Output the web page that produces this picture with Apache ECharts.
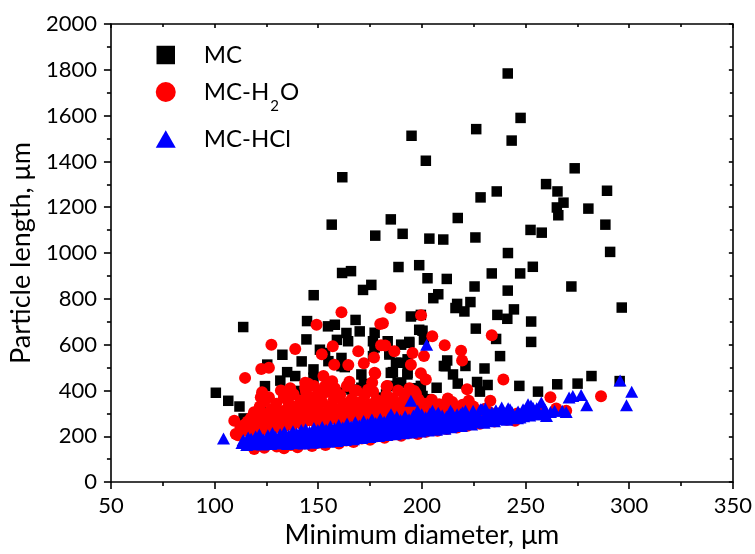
<!DOCTYPE html>
<html>
<head>
<meta charset="utf-8">
<script src="https://cdn.jsdelivr.net/npm/echarts@6/dist/echarts.min.js"></script>
<style>
  html, body { margin: 0; padding: 0; background: #fff; }
  #chart { width: 755px; height: 554px; }
</style>
</head>
<body>
<div id="chart"></div>
<script>
// Axis ranges
const xTicks = [50, 100, 150, 200, 250, 300, 350];
const yTicks = [0, 200, 400, 600, 800, 1000, 1200, 1400, 1600, 1800, 2000];

// Series names
const seriesNames = ['MC', 'MC-H2O', 'MC-HCl'];

// MC: [minimum diameter (µm), particle length (µm)]
const mcPoints = [
  [100.6,390],[106.6,355],[112,330],[114,278],[113.8,677],[124.3,419],[125.4,513],[122.2,308],
  [132.7,556],[131.7,443],[135,480],[138.9,463],[142,527],[144.6,703],[144.3,623],[147.8,816],
  [147.7,492],[147.7,456],[150.8,578],[154.7,680],[158,687],[159,621],[161.5,913],[165.8,921],
  [163.6,651],[164.4,615],[168,708],[170,658],[171.6,839],[175.6,861],[161.6,1331],[156.5,1124],
  [177.5,1076],[162.8,502],[166,404],[170.8,470],[177.2,652],[176.4,615],[183.5,615],[177.2,588],
  [187.5,521],[154.9,528],[153.3,564],[161.2,542],[161.2,506],[176.4,550],[184.3,564],[190,521],
  [193.1,536],[186,480],[193.1,477],[190,434],[185.1,420],[199.5,420],[211.4,506],[207.1,412],
  [164.4,412],[182.7,383],[154.1,412],[205.5,803],[207.9,820],[190,600],[193.9,608],[194.7,723],
  [199.5,730],[198.7,665],[201,622],[200.3,661],
  [241.4,1784],[247.6,1590],[226.2,1541],[243.3,1491],[195,1512],[201.9,1403],[273.7,1370],
  [259.9,1301],[265.4,1269],[289.3,1272],[236.1,1269],[228.3,1243],[268.3,1220],[265.1,1199],
  [265.8,1165],[280.3,1194],[288.5,1124],[290.8,1005],[185,1147],[190.7,1084],[203.6,1063],
  [210.3,1059],[217.3,1153],[225.8,1068],[252.4,1101],[257.8,1089],[241.5,1000],[188.7,939],
  [198.7,947],[253.5,940],[233.7,911],[247.4,911],[202.7,890],[212,887],
  [225.4,854],[272.1,854],[241.4,836],[223.4,786],[217,778],[216.2,760],[220.5,745],[244.4,754],
  [241.2,713],[236.4,730],[252.7,701],[296.4,762],[226,670],[235.8,625],[252.7,612],[237.7,550],
  [212.2,531],[210.6,507],[221,507],[230.2,496],[226.6,437],[231.7,424],[217.3,430],[200.3,376],
  [194,398],[188.3,434],[265.3,427],[275.1,430],[281.8,463],[295.4,441],[177.2,593],[184.3,557],
  [193.9,612],[185,477],[193,470],[179,369],[170.8,412],
  [140.5,398],[159.7,391],[172,428],[194.7,410],[180,352],[203,362],[215,470],[228,395],[247,420],[256,395]
];

// MC-H2O
const mcH2OPoints = [
  [109.5,268],[111.3,205],[114.7,455],[127.4,600],[122.5,494],[126.2,499],[122.3,370],[126.2,370],
  [138.9,581],[134,370],[149.2,687],[151.7,558],[157,593],[157.7,512],[161.2,742],[164.5,511],
  [169.3,571],[172,519],[176.9,544],[177.2,477],[174,403],[179.9,690],[180.3,597],[143.7,434],
  [152.5,463],[152.5,398],[158,410],[147.7,369],[137.3,326],[131,296],[121.4,296],[116.7,231],
  [113.4,224],[184.8,760],[181.2,694],[199.6,728],[177.5,473],[182.3,596],[186.7,571],
  [195.5,564],[201,550],[194.7,512],[205,637],[211,597],[218.9,574],[219.4,531],[233.7,641],
  [239.3,448],[199.5,475],[201.9,448],[183.3,420],[197.1,386],[221.8,405],[212.5,365],[222.6,355],
  [233,355],[262,370],[286.4,375],[264.8,321],[269.6,311],[226.6,268],[244.9,268],[212.2,304],
  [191.5,383],[153.3,420],[167.6,398],[196.3,398],[144.5,369],[133.4,369],[143.7,412],[110.2,210],
  [115,224],[119.8,231],[119.8,289],[129.4,296],[135.8,311],[142,326],[149.3,340],[134.1,246],
  // dense cluster
  [112.5,238],[114.6,252],[116,265],[118,242],[117.5,280],[120.5,258],[119,305],[121.8,330],[118.7,212],
  [123,226],[124.5,268],[125.6,300],[126.8,244],[127.5,318],[128.6,276],[129.7,342],[124,352],[122.9,392],[130.5,255],[128,232],
  [131.2,290],[132.4,232],[133.6,312],[134,270],[135.5,350],[136.3,292],[137.4,248],[138.1,384],[138.8,330],[139.6,268],[136.5,410],[132,400],
  [140.8,305],[141.5,356],[142.2,252],[143,286],[144.1,395],[144.9,322],[145.6,270],[146.4,345],[147.2,298],[148,420],[148.7,262],[149.5,380],[145,430],
  [150.4,312],[151.1,280],[151.9,350],[152.6,258],[153.5,392],[154.3,300],[155.2,330],[155.9,275],[156.7,440],[157.5,362],[158.3,292],[159.1,318],[159.8,268],[157,405],
  [160.6,380],[161.3,300],[162.2,345],[163,275],[163.8,420],[164.5,315],[165.3,290],[166.1,362],[166.9,330],[167.7,284],[168.4,400],[169.2,305],[165,438],
  [170.1,350],[170.8,290],[171.6,322],[172.5,380],[173.3,300],[174.1,268],[174.8,340],[175.6,310],[176.5,395],[177.3,285],[178.1,360],[178.9,330],[179.6,300],[176,435],
  [180.4,348],[181.2,290],[182,318],[182.9,380],[183.7,302],[184.5,340],[185.3,282],[186.1,365],[186.8,320],[187.6,298],[188.5,400],[189.3,335],[183,418],
  [190.1,305],[190.8,352],[191.7,318],[192.5,290],[193.4,372],[194.2,338],[195,302],[195.9,350],[196.7,322],[197.5,296],[198.3,362],[199.2,330],[194,410],
  [200.4,308],[201.3,342],[202.5,318],[203.6,300],[204.8,360],[205.9,326],[207.2,306],[208.3,340],[209.5,316],[210.8,300],[212,332],[213.4,310],[214.6,350],
  [216.2,322],[218,306],[219.6,338],[221.3,318],[223,300],[224.8,330],[226.5,312],[228.4,296],[230.5,320],[232.6,305],[234.5,290],[237,300],
  [246,300],[252,305],[258,312],
  // lower edge
  [119.1,145],[121.5,160],[124,150],[127,172],[130,155],[133.5,148],[136.8,162],[140,152],[143.5,168],
  [147,158],[150,172],[153.5,162],[157,178],[160,168],[163.5,182],[167,175],[171,190],[175,185],
  [178.5,200],[182,194],[186,208],[190,202],[194,214],[198,210],[202,220],[207.5,224],[212,232],
  [217,238],[222,246],[228,255],[235,265],[241,272],[248,282]
];

// MC-HCl
const mcHClPoints = [
  [104.3,190],[202.3,600],[295.6,444],[301.2,395],[298.7,335],[272.8,376],[276.8,380],[279.5,336],
  [271,369],[267.7,311],[269.6,306],[257.6,347],[253.6,325],[251.2,340],[248.8,318],[245.7,290],
  [238.5,326],[233.7,304],[229,318],[225,290],[221,311],[213.8,239],[217,296],[207.5,296],
  [205.1,311],[194.7,355],[197.9,311],[185.1,296],[228.2,318],[242.5,318],[247.3,282],[255.3,296],
  [260.1,289],[233,275],[225,282],[218.6,253],[218.6,296],[213.8,312],[264,312],
  // main band
  [113.2,171],[113.8,184],[115.5,162],[115.9,178],[116.2,195],[117.3,168],[117.6,189],
  [119.1,165],[119.4,181],[119.8,199],[121,173],[121.3,194],[121.6,208],[123.2,164],[123.5,186],
  [125,170],[125.3,183],[125.7,204],[127.1,166],[127.4,191],[127.9,214],[129.2,176],[129.4,197],
  [131,168],[131.3,186],[131.6,209],[133.1,172],[133.4,194],[133.7,219],[135.2,166],[135.4,181],[135.8,205],
  [137.1,178],[137.3,199],[137.8,222],[139,170],[139.3,191],[139.6,212],[141.2,175],[141.4,195],[141.8,227],
  [143.1,168],[143.2,186],[143.6,207],[143.9,231],[145.1,178],[145.4,201],[145.8,220],
  [147,172],[147.3,191],[147.6,215],[147.9,236],[149.1,180],[149.4,204],[149.8,228],
  [151,174],[151.2,197],[151.5,217],[151.9,241],[153.1,182],[153.3,207],[153.8,229],
  [155,176],[155.2,199],[155.5,221],[155.9,244],[157.1,186],[157.4,209],[157.8,235],
  [159,179],[159.3,203],[159.6,226],[159.9,249],[161.2,189],[161.5,213],[161.8,238],
  [163.1,184],[163.3,206],[163.6,229],[163.9,256],[165.2,192],[165.4,219],[165.8,243],
  [167,187],[167.3,211],[167.6,236],[167.9,261],[169.1,197],[169.4,222],[169.8,247],
  [171,192],[171.3,214],[171.7,241],[171.9,267],[173.2,201],[173.5,227],[173.8,254],
  [175,197],[175.3,219],[175.6,246],[175.9,273],[177.1,205],[177.4,233],[177.7,258],
  [179.1,201],[179.4,224],[179.7,251],[179.9,276],[181.2,210],[181.5,236],[181.8,263],
  [183,206],[183.3,229],[183.6,257],[183.9,279],[185.1,214],[185.4,241],[185.8,265],
  [187.1,209],[187.3,233],[187.7,261],[187.9,285],[189.2,218],[189.5,244],[189.7,271],
  [191,213],[191.3,238],[191.6,263],[191.9,288],[193.1,222],[193.4,249],[193.8,274],
  [195,217],[195.3,243],[195.5,268],[195.9,291],[197.1,226],[197.4,252],[197.8,281],
  [199.1,221],[199.3,246],[199.6,271],[199.9,296],[201.2,229],[201.4,256],[201.8,283],
  [203.1,225],[203.3,251],[203.6,276],[203.9,299],[205.1,234],[205.4,261],[205.8,287],
  [207,229],[207.3,254],[207.6,281],[207.9,303],[209.2,238],[209.4,265],[209.8,291],
  [211.1,233],[211.4,258],[211.8,285],[214,242],[214.3,268],[214.6,299],[216.2,248],[216.5,277],
  [219,245],[219.3,273],[219.6,305],[222.1,255],[222.4,282],[224,251],[224.3,279],[224.7,311],
  [227.1,262],[227.4,289],[230,259],[230.3,286],[230.6,321],[232.2,268],[232.5,295],
  [235,266],[235.3,292],[235.7,314],[238.1,275],[238.4,301],[241,272],[241.3,298],[241.6,322],
  [243.2,282],[243.5,305],[246.1,279],[246.4,308],[249.1,288],[249.4,312],
  [252,291],[252.3,316],[252.6,334],[255.1,296],[255.4,322],[259,301],[259.3,318],[262,306]
];

const chart = echarts.init(document.getElementById('chart'), null, { renderer: 'canvas' });

const FONT = 'Lato';
const axisLineStyle = { color: '#000', width: 1.6 };
const plainNumber = function (v) { return String(v); };

const option = {
  backgroundColor: '#fff',
  animation: false,
  textStyle: { fontFamily: FONT, color: '#000' },
  grid: { left: 107, right: 20, top: 24, bottom: 69, containLabel: false },
  legend: {
    orient: 'vertical',
    left: 150,
    top: 38,
    itemWidth: 20,
    itemHeight: 20,
    itemGap: 13,
    data: [
      { name: seriesNames[0], icon: 'rect', itemStyle: { borderWidth: 1.5, borderColor: '#fff' } },
      { name: seriesNames[1], icon: 'circle' },
      { name: seriesNames[2], icon: 'path://M11.5,0L23,20L0,20Z' }
    ],
    formatter: function (name) {
      if (name === 'MC-H2O') return '{n|MC-H}{s|2}{n|O}';
      return '{n|' + name + '}';
    },
    textStyle: {
      fontFamily: FONT,
      color: '#000',
      padding: [0, 0, 0, 23],
      rich: {
        n: { fontFamily: FONT, fontSize: 24, color: '#000', lineHeight: 28 },
        s: { fontFamily: FONT, fontSize: 15, color: '#000', lineHeight: 28, verticalAlign: 'bottom', padding: [0, 1, -8, 1] }
      }
    }
  },
  xAxis: [
    {
      type: 'value', min: xTicks[0], max: xTicks[xTicks.length - 1], interval: 50,
      name: 'Minimum diameter, μm', nameLocation: 'middle', nameGap: 38,
      nameTextStyle: { fontFamily: FONT, fontSize: 27, color: '#000' },
      axisLine: { show: true, onZero: false, lineStyle: axisLineStyle },
      axisTick: { show: true, inside: false, length: 7, lineStyle: axisLineStyle },
      minorTick: { show: true, splitNumber: 2, length: 4, lineStyle: axisLineStyle },
      axisLabel: { fontFamily: FONT, fontSize: 22, color: '#000', margin: 13, formatter: plainNumber },
      splitLine: { show: false }
    },
    {
      type: 'value', position: 'top', min: xTicks[0], max: xTicks[xTicks.length - 1], interval: 50,
      axisLine: { show: true, onZero: false, lineStyle: axisLineStyle },
      axisTick: { show: true, inside: true, length: 4, lineStyle: axisLineStyle },
      minorTick: { show: true, splitNumber: 2, length: 3, lineStyle: axisLineStyle },
      axisLabel: { show: false },
      splitLine: { show: false }
    }
  ],
  yAxis: [
    {
      type: 'value', min: yTicks[0], max: yTicks[yTicks.length - 1], interval: 200,
      name: 'Particle length, μm', nameLocation: 'middle', nameGap: 66,
      nameTextStyle: { fontFamily: FONT, fontSize: 27, color: '#000' },
      axisLine: { show: true, onZero: false, lineStyle: axisLineStyle },
      axisTick: { show: true, inside: false, length: 7, lineStyle: axisLineStyle },
      minorTick: { show: true, splitNumber: 2, length: 4, lineStyle: axisLineStyle },
      axisLabel: { fontFamily: FONT, fontSize: 22, color: '#000', margin: 14, formatter: plainNumber },
      splitLine: { show: false }
    },
    {
      type: 'value', position: 'right', min: yTicks[0], max: yTicks[yTicks.length - 1], interval: 200,
      axisLine: { show: true, onZero: false, lineStyle: axisLineStyle },
      axisTick: { show: true, inside: true, length: 4, lineStyle: axisLineStyle },
      minorTick: { show: true, splitNumber: 2, length: 3, lineStyle: axisLineStyle },
      axisLabel: { show: false },
      splitLine: { show: false }
    }
  ],
  series: [
    {
      name: seriesNames[0], type: 'scatter', symbol: 'rect', symbolSize: 10.5,
      itemStyle: { color: '#000000', opacity: 1 },
      data: mcPoints
    },
    {
      name: seriesNames[1], type: 'scatter', symbol: 'circle', symbolSize: 12,
      itemStyle: { color: '#ff0000', opacity: 1 },
      data: mcH2OPoints
    },
    {
      name: seriesNames[2], type: 'scatter', symbol: 'triangle', symbolSize: [13, 12],
      itemStyle: { color: '#0000ff', opacity: 1 },
      data: mcHClPoints
    }
  ]
};

chart.setOption(option);
</script>
</body>
</html>
